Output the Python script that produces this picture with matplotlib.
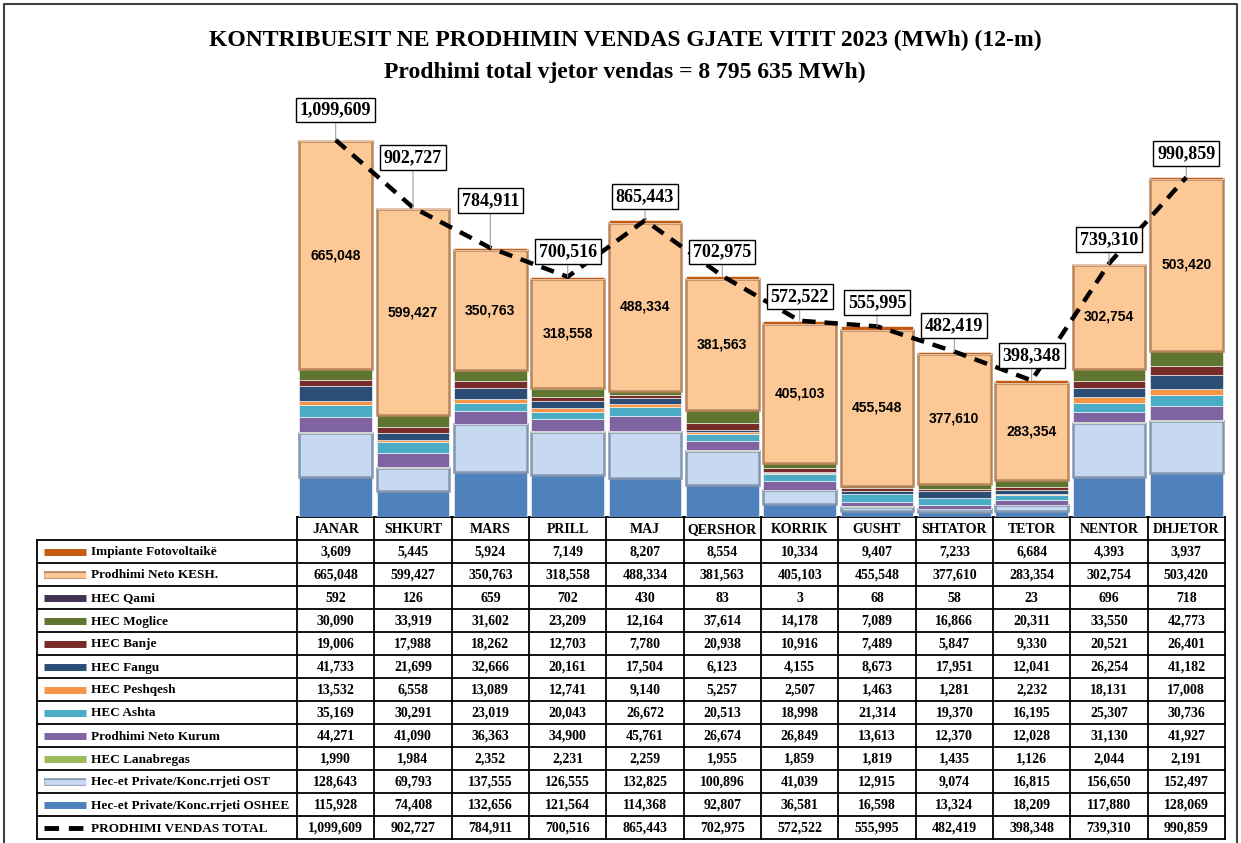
import numpy as np
import matplotlib
matplotlib.use("Agg")
import matplotlib.pyplot as plt

months = ["JANAR", "SHKURT", "MARS", "PRILL", "MAJ", "QERSHOR",
          "KORRIK", "GUSHT", "SHTATOR", "TETOR", "NENTOR", "DHJETOR"]

# vlerat (MWh) sipas burimit
fotovoltaike = [3609, 5445, 5924, 7149, 8207, 8554, 10334, 9407, 7233, 6684, 4393, 3937]
kesh = [665048, 599427, 350763, 318558, 488334, 381563, 405103, 455548, 377610, 283354, 302754, 503420]
qami = [592, 126, 659, 702, 430, 83, 3, 68, 58, 23, 696, 718]
moglice = [30090, 33919, 31602, 23209, 12164, 37614, 14178, 7089, 16866, 20311, 33550, 42773]
banje = [19006, 17988, 18262, 12703, 7780, 20938, 10916, 7489, 5847, 9330, 20521, 26401]
fangu = [41733, 21699, 32666, 20161, 17504, 6123, 4155, 8673, 17951, 12041, 26254, 41182]
peshqesh = [13532, 6558, 13089, 12741, 9140, 5257, 2507, 1463, 1281, 2232, 18131, 17008]
ashta = [35169, 30291, 23019, 20043, 26672, 20513, 18998, 21314, 19370, 16195, 25307, 30736]
kurum = [44271, 41090, 36363, 34900, 45761, 26674, 26849, 13613, 12370, 12028, 31130, 41927]
lanabregas = [1990, 1984, 2352, 2231, 2259, 1955, 1859, 1819, 1435, 1126, 2044, 2191]
private_ost = [128643, 69793, 137555, 126555, 132825, 100896, 41039, 12915, 9074, 16815, 156650, 152497]
private_oshee = [115928, 74408, 132656, 121564, 114368, 92807, 36581, 16598, 13324, 18209, 117880, 128069]
total = [1099609, 902727, 784911, 700516, 865443, 702975, 572522, 555995, 482419, 398348, 739310, 990859]

# renditja nga poshte lart
series = [
    ("Hec-et Private/Konc.rrjeti OSHEE", private_oshee, "#4F81BD"),
    ("Hec-et Private/Konc.rrjeti OST", private_ost, "#C6D9F1"),
    ("HEC Lanabregas", lanabregas, "#9BBB59"),
    ("Prodhimi Neto Kurum", kurum, "#8064A2"),
    ("HEC Ashta", ashta, "#4BACC6"),
    ("HEC Peshqesh", peshqesh, "#F79646"),
    ("HEC Fangu", fangu, "#2C4D75"),
    ("HEC Banje", banje, "#772C2A"),
    ("HEC Moglice", moglice, "#5F7530"),
    ("HEC Qami", qami, "#403152"),
    ("Prodhimi Neto KESH.", kesh, "#FCC895"),
    ("Impiante Fotovoltaikë", fotovoltaike, "#C55A11"),
]
bevel = {"Prodhimi Neto KESH.": "#B8865C", "Hec-et Private/Konc.rrjeti OST": "#8497B0"}

W, H = 1241, 843
fig = plt.figure(figsize=(W / 100, H / 100), dpi=100)
serif = ["Liberation Serif", "DejaVu Serif"]

# sfondi / tabela ne koordinata pikselash
bg = fig.add_axes([0, 0, 1, 1], zorder=0)
bg.set_xlim(0, W)
bg.set_ylim(H, 0)
bg.axis("off")

# zona e shtyllave
px_top, px_bot = 95, 517
x_left, x_right = 297, 1225
ax = fig.add_axes([x_left / W, 1 - px_bot / H, (x_right - x_left) / W, (px_bot - px_top) / H], zorder=2)
ax.patch.set_alpha(0)
ymax = (px_bot - px_top) * total[0] / 377
ax.set_ylim(0, ymax)
ax.set_xlim(-0.5, 11.5)
ax.axis("off")

x = np.arange(len(months))
bottom = np.zeros(len(months))
for name, vals, col in series:
    vals = np.array(vals, dtype=float)
    if name in bevel:
        ax.bar(x, vals, 0.94, bottom=bottom, color=col, edgecolor=bevel[name], linewidth=1.8, zorder=2)
    else:
        ax.bar(x, vals, 0.94, bottom=bottom, color=col, edgecolor="white", linewidth=0.4, zorder=2)
    if name == "Prodhimi Neto KESH.":
        for i, v in enumerate(vals):
            ax.text(x[i], bottom[i] + v / 2, f"{int(v):,}", ha="center", va="center",
                    fontsize=10, fontweight="bold", family=["Liberation Sans", "DejaVu Sans"], zorder=4)
    bottom += vals

ax.plot(x, total, color="black", lw=3.2, linestyle=(0, (3, 2)), zorder=5)

label_dy = [30, 50, 47, 25, 24, 24, 24, 24, 26, 25, 24, 24]
for i, t in enumerate(total):
    ax.annotate(f"{t:,}", (x[i], t), xytext=(0, label_dy[i] * 0.72), textcoords="offset points",
                ha="center", va="center", fontsize=13, fontweight="bold", family=serif,
                bbox=dict(boxstyle="square,pad=0.22", fc="white", ec="black", lw=1),
                arrowprops=dict(arrowstyle="-", color="#A0A0A0", lw=0.8, shrinkA=0, shrinkB=0),
                zorder=6)

# titulli
fig.text(625 / W, 1 - 40 / H, "KONTRIBUESIT NE PRODHIMIN VENDAS GJATE VITIT 2023 (MWh) (12-m)",
         ha="center", va="center", fontsize=17, fontweight="bold", family=serif)
fig.text(625 / W, 1 - 72 / H, "Prodhimi total vjetor vendas = 8 795 635 MWh)",
         ha="center", va="center", fontsize=17, fontweight="bold", family=serif)

# tabela
col_w = (x_right - x_left) / 12
lab_x0 = 37
head_y0, head_h = px_bot, 23
row_h = 23
rows = list(reversed(series))
n_rows = len(rows) + 1
y_end = head_y0 + head_h + n_rows * row_h
lw_t = 1.3

bg.plot([x_left, x_right], [head_y0, head_y0], color="black", lw=lw_t)
for r in range(n_rows + 1):
    yy = head_y0 + head_h + r * row_h
    bg.plot([lab_x0, x_right], [yy, yy], color="black", lw=lw_t)
bg.plot([lab_x0, lab_x0], [head_y0 + head_h, y_end], color="black", lw=lw_t)
for c in range(13):
    xx = x_left + c * col_w
    bg.plot([xx, xx], [head_y0, y_end], color="black", lw=lw_t)

for c, m in enumerate(months):
    bg.text(x_left + (c + 0.5) * col_w, head_y0 + head_h / 2 + 1, m, ha="center", va="center",
            fontsize=10, fontweight="bold", family=serif)

for r, (name, vals, col) in enumerate(rows):
    yc = head_y0 + head_h + (r + 0.5) * row_h
    if name in bevel:
        bg.plot([44, 86], [yc, yc], color=bevel[name], lw=5.5, solid_capstyle="butt")
        bg.plot([44, 86], [yc, yc], color=col, lw=3.5, solid_capstyle="butt")
    else:
        bg.plot([44, 86], [yc, yc], color=col, lw=5, solid_capstyle="butt")
    bg.text(91, yc + 1, name, ha="left", va="center", fontsize=9.5, fontweight="bold", family=serif)
    for c, v in enumerate(vals):
        bg.text(x_left + (c + 0.5) * col_w, yc + 1, f"{v:,}", ha="center", va="center",
                fontsize=10, fontweight="bold", family=serif)

yc = head_y0 + head_h + (n_rows - 0.5) * row_h
bg.plot([44, 86], [yc, yc], color="black", lw=3.5, linestyle=(0, (3, 2)))
bg.text(91, yc + 1, "PRODHIMI VENDAS TOTAL", ha="left", va="center", fontsize=9.5,
        fontweight="bold", family=serif)
for c, v in enumerate(total):
    bg.text(x_left + (c + 0.5) * col_w, yc + 1, f"{v:,}", ha="center", va="center",
            fontsize=10, fontweight="bold", family=serif)

# korniza
bg.plot([4, 4, 1237, 1237], [H, 4, 4, H], color="#404040", lw=1.5)

fig.savefig("out.png", dpi=100)
